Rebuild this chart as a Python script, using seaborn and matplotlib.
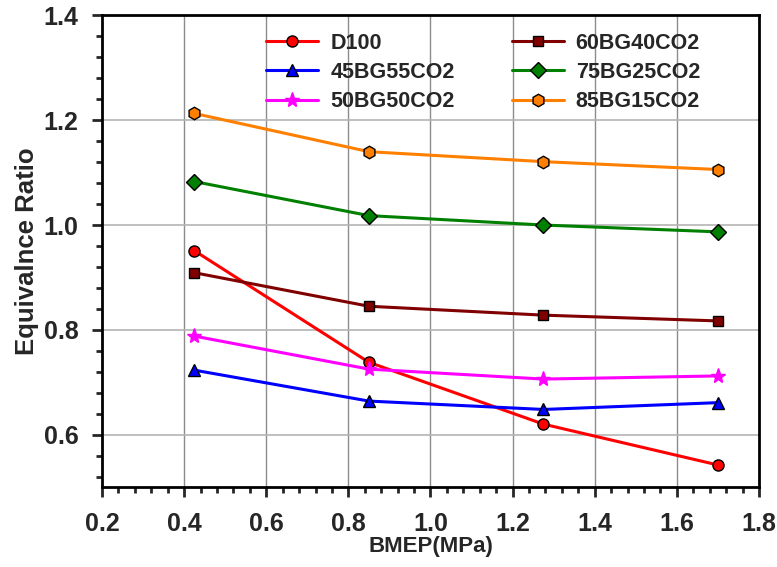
import matplotlib
matplotlib.use("Agg")
import matplotlib.pyplot as plt
import seaborn as sns
from matplotlib.ticker import MultipleLocator

bmep = [0.425, 0.85, 1.275, 1.7]
d100 = [0.951, 0.738, 0.620, 0.542]
bg45 = [0.723, 0.664, 0.648, 0.661]
bg50 = [0.788, 0.725, 0.706, 0.712]
bg60 = [0.909, 0.845, 0.828, 0.817]
bg75 = [1.083, 1.018, 1.000, 0.987]
bg85 = [1.213, 1.140, 1.121, 1.106]

names = ["D100", "45BG55CO2", "50BG50CO2", "60BG40CO2", "75BG25CO2", "85BG15CO2"]
series = [d100, bg45, bg50, bg60, bg75, bg85]
colors = ["#ff0000", "#0000ff", "#ff00ff", "#800000", "#008000", "#ff8000"]
markers = ["o", "^", "*", "s", "D", "h"]
edges = ["black", "black", "#ff00ff", "black", "black", "black"]
msizes = [8, 8.5, 11, 7.5, 8, 9]

xticks = [0.2, 0.4, 0.6, 0.8, 1.0, 1.2, 1.4, 1.6, 1.8]
xtick_labels = ["0.2", "0.4", "0.6", "0.8", "1.0", "1.2", "1.4", "1.6", "1.8"]
yticks = [0.6, 0.8, 1.0, 1.2, 1.4]
ytick_labels = ["0.6", "0.8", "1.0", "1.2", "1.4"]

sns.set_style("ticks")
plt.rcParams["font.family"] = ["Liberation Sans", "DejaVu Sans"]
plt.rcParams["font.weight"] = "bold"

fig = plt.figure(figsize=(7.77, 5.67), dpi=100)
ax = fig.add_axes([0.1313, 0.1411, 0.8455, 0.8316])

for name, vals, c, m, ec, ms in zip(names, series, colors, markers, edges, msizes):
    sns.lineplot(x=bmep, y=vals, ax=ax, color=c, marker=m, markersize=ms,
                 markeredgecolor=ec, markeredgewidth=1.0, linewidth=2.2,
                 label=name, zorder=3)

ax.set_xlim(0.2, 1.8)
ax.set_ylim(0.5, 1.4)
ax.xaxis.set_minor_locator(MultipleLocator(0.04))
ax.yaxis.set_minor_locator(MultipleLocator(0.04))
ax.set_xticks(xticks)
ax.set_yticks(yticks)
ax.set_xticklabels(xtick_labels, fontsize=18, fontweight="bold")
ax.set_yticklabels(ytick_labels, fontsize=18, fontweight="bold")

ax.grid(False)
for xv in xticks[1:-1]:
    ax.axvline(xv, color="#8c8c8c", linewidth=1.0, zorder=1)
for yv in yticks[:-1]:
    ax.axhline(yv, color="#b4b4b4", linewidth=1.2, zorder=1)

for s in ax.spines.values():
    s.set_linewidth(2.0)
    s.set_color("black")
ax.tick_params(axis="x", which="major", direction="out", length=7, width=2, pad=11)
ax.tick_params(axis="y", which="major", direction="out", length=7, width=2, pad=10)
ax.tick_params(which="minor", direction="out", length=4.5, width=2)

ax.set_xlabel("BMEP(MPa)", fontsize=16, fontweight="bold", labelpad=0)
ax.set_ylabel("Equivalnce Ratio", fontsize=18.5, fontweight="bold", labelpad=3)

leg = ax.legend(ncol=2, frameon=False, loc="upper left", bbox_to_anchor=(0.2496, 0.9635),
                borderaxespad=0, borderpad=0, prop={"size": 15.5, "weight": "bold"},
                handlelength=2.42, handletextpad=0.56, columnspacing=2.65,
                labelspacing=0.38)

fig.savefig("out.png", dpi=100)
